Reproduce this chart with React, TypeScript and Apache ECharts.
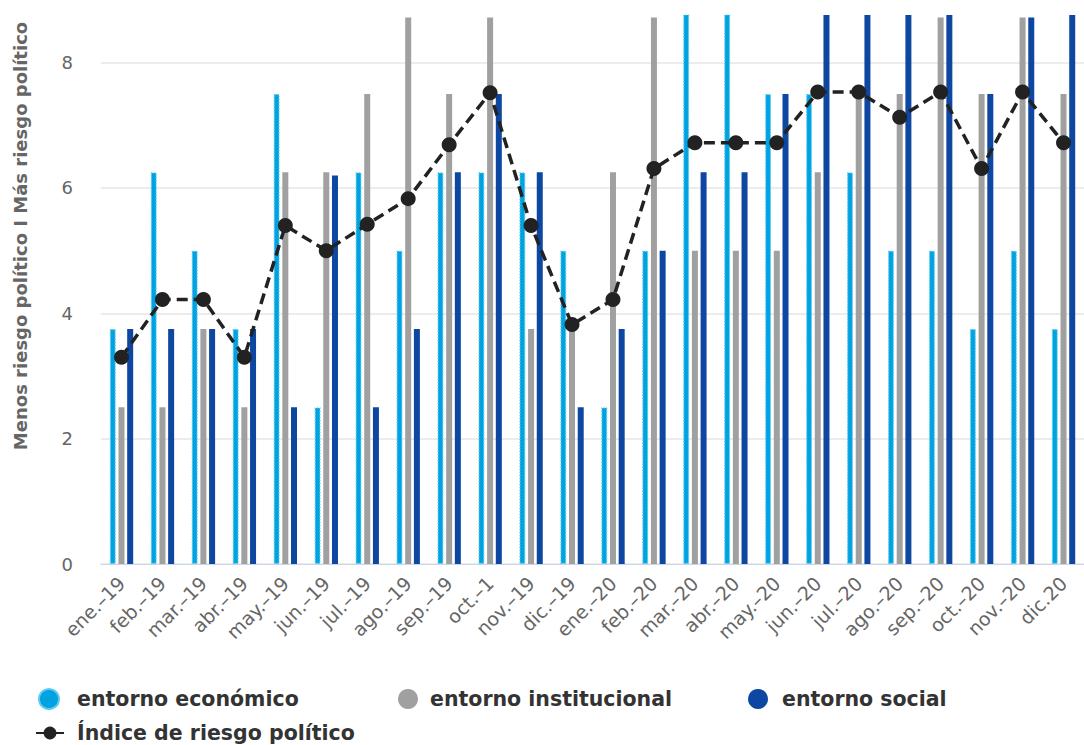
import React, { useEffect, useRef } from "react";
import * as echarts from "echarts";

const categories = [
  "ene.–19", "feb.–19", "mar.–19", "abr.–19", "may.–19", "jun.–19",
  "jul.–19", "ago.–19", "sep.–19", "oct.–1", "nov.–19", "dic.–19",
  "ene.–20", "feb.–20", "mar.–20", "abr.–20", "may.–20", "jun.–20",
  "jul.–20", "ago.–20", "sep.–20", "oct.–20", "nov.–20", "dic.20",
];

const economico = [3.75, 6.25, 5, 3.75, 7.5, 2.5, 6.25, 5, 6.25, 6.25, 6.25, 5,
  2.5, 5, 10, 10, 7.5, 7.5, 6.25, 5, 5, 3.75, 5, 3.75];
const institucional = [2.5, 2.5, 3.75, 2.5, 6.25, 6.25, 7.5, 8.72, 7.5, 8.72, 3.75, 3.75,
  6.25, 8.72, 5, 5, 5, 6.25, 7.5, 7.5, 8.72, 7.5, 8.72, 7.5];
const social = [3.75, 3.75, 3.75, 3.75, 2.5, 6.2, 2.5, 3.75, 6.25, 7.5, 6.25, 2.5,
  3.75, 5, 6.25, 6.25, 7.5, 10, 10, 10, 10, 7.5, 8.72, 10];
const indice = [3.3, 4.22, 4.22, 3.3, 5.4, 5.0, 5.42, 5.83, 6.69, 7.52, 5.4, 3.82,
  4.22, 6.31, 6.72, 6.72, 6.72, 7.53, 7.53, 7.13, 7.53, 6.31, 7.53, 6.72];

const yTicks = [0, 2, 4, 6, 8];

const FONT = "DejaVu Sans";

export default function App() {
  const ref = useRef<HTMLDivElement>(null);
  useEffect(() => {
    document.body.style.margin = "0";
    if (!ref.current) return;
    const chart = echarts.init(ref.current, null, { renderer: "svg" });
    const legendText = { fontFamily: FONT, fontWeight: "bold", fontSize: 20.5, color: "#333", lineHeight: 24 };
    const mk = (name: string, left: number, top: number, pad: number, w: number, h: number) => ({
      data: [name],
      left,
      top,
      padding: 0,
      itemWidth: w,
      itemHeight: h,
      textStyle: { ...legendText, padding: [0, 0, 0, pad] },
    });
    chart.setOption({
      animation: false,
      textStyle: { fontFamily: FONT },
      grid: { left: 101, top: 15, width: 1000, height: 549, containLabel: false },
      legend: [
        { ...mk("entorno económico", 38, 687, 13, 20, 20), icon: "circle" },
        { ...mk("entorno institucional", 398, 687, 7, 20, 20), icon: "circle" },
        { ...mk("entorno social", 748, 687, 9, 20, 20), icon: "circle" },
        mk("Índice de riesgo político", 35, 721, 8, 28, 16),
      ],
      xAxis: {
        type: "category",
        data: categories,
        axisLine: { lineStyle: { color: "#ccd6eb", width: 1 } },
        axisTick: { show: false },
        axisLabel: { rotate: 45, color: "#666", fontSize: 19, fontFamily: FONT, margin: 16, interval: 0 },
      },
      yAxis: {
        type: "value",
        min: yTicks[0],
        max: 8.76,
        interval: 2,
        axisLine: { show: false },
        axisTick: { show: false },
        axisLabel: { color: "#666", fontSize: 18, fontFamily: FONT, margin: 28, showMaxLabel: false },
        splitLine: {
          lineStyle: {
            color: ["#e6e6e6", "#e6e6e6", "#e6e6e6", "#e6e6e6", "#e6e6e6", "rgba(0,0,0,0)"],
            width: 1.5,
          },
        },
      },
      graphic: [
        {
          type: "text",
          x: 20,
          y: 236,
          rotation: Math.PI / 2,
          style: {
            text: "Menos riesgo político I Más riesgo político",
            fill: "#666",
            font: `bold 18px "${FONT}"`,
            align: "center",
            verticalAlign: "middle",
          },
        },
      ],
      series: [
        {
          name: "entorno económico",
          type: "bar",
          data: economico,
          barWidth: 6,
          barGap: "45%",
          itemStyle: { color: "#00a3e0", borderColor: "#5fcaf3", borderWidth: 1.2, borderType: [1.5, 1.5] },
        },
        {
          name: "entorno institucional",
          type: "bar",
          data: institucional,
          barWidth: 6,
          itemStyle: { color: "#a0a0a0" },
        },
        {
          name: "entorno social",
          type: "bar",
          data: social,
          barWidth: 6,
          itemStyle: { color: "#0d47a1" },
        },
        {
          name: "Índice de riesgo político",
          type: "line",
          data: indice,
          z: 10,
          symbol: "circle",
          symbolSize: 15,
          itemStyle: { color: "#222" },
          lineStyle: { color: "#222", width: 3.5, type: [11, 6] },
        },
      ],
    });
    return () => chart.dispose();
  }, []);
  return <div ref={ref} style={{ width: 1084, height: 745 }} />;
}
